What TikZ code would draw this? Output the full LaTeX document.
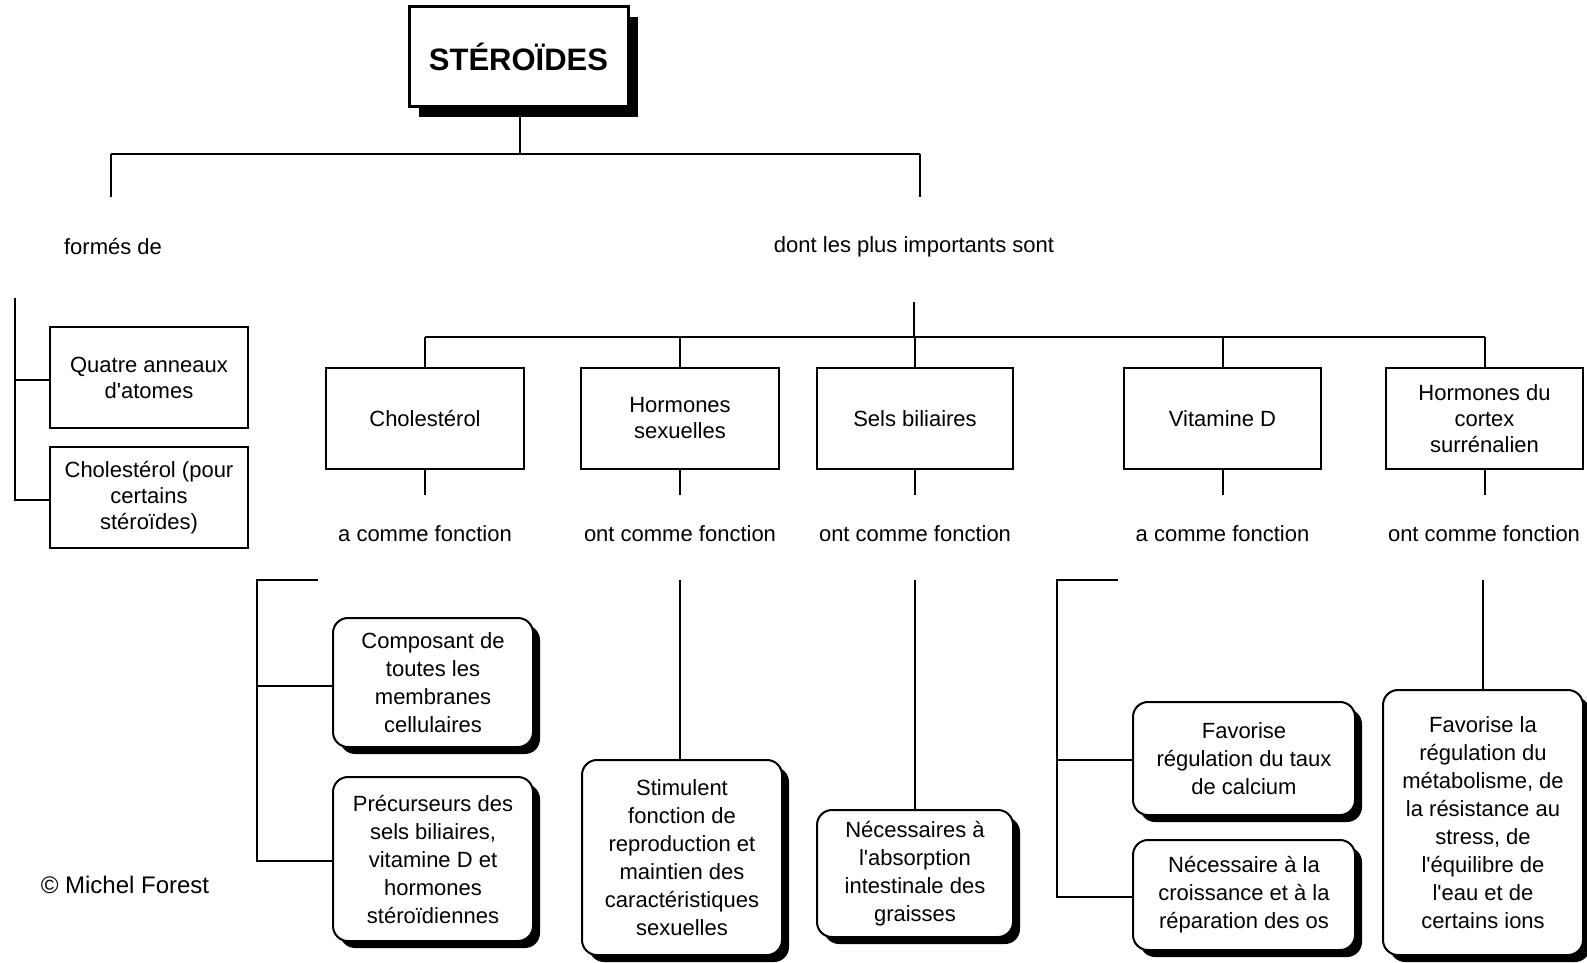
\documentclass[tikz,border=0pt]{standalone}
\usepackage{fontspec}
\setmainfont{Liberation Sans}
\usetikzlibrary{shadows}
\newcommand{\apos}{\textquotesingle}
\begin{document}
\begin{tikzpicture}[x=1pt,y=-1pt,
  ln/.style={line width=2pt},
  lbl/.style={font=\fontsize{22}{26}\selectfont, inner sep=0pt},
  sqbox/.style={draw, line width=2pt, fill=white, align=center, inner sep=0pt,
    font=\fontsize{22}{26}\selectfont},
  rbox/.style={draw, line width=2pt, fill=white, align=center, inner sep=0pt,
    rounded corners=15pt, font=\fontsize{22}{28}\selectfont,
    drop shadow={shadow xshift=7pt, shadow yshift=-7pt, opacity=1, fill=black}},
  titlebox/.style={draw, line width=3pt, fill=white, inner sep=0pt,
    minimum width=219pt, minimum height=100pt,
    font=\fontsize{31}{36}\selectfont\bfseries,
    drop shadow={shadow xshift=10pt, shadow yshift=-10pt, opacity=1, fill=black}}
]
\useasboundingbox (0,0) rectangle (1587,963);
\fill[white] (0,0) rectangle (1587,963);

% title
\node[titlebox] (t) at (518.5,57) {STÉROÏDES};
\coordinate (tj) at (520,154);
\coordinate (jl) at (111,154);
\coordinate (jr) at (920,154);
\coordinate (jl2) at (111,197);
\coordinate (jr2) at (920,197);
\draw[ln] (t.south -| tj) -- (tj);
\draw[ln] (jl) -- (jr);
\draw[ln] (jl) -- (jl2);
\draw[ln] (jr) -- (jr2);

\node[lbl] (f) at (113,247) {formés de};
\node[lbl] (d) at (914,247) {dont les plus importants sont};

% left branch
\coordinate (lt) at (15,298);
\coordinate (lb) at (15,500);
\node[sqbox, minimum width=198pt, minimum height=101pt] (q) at (149,377.5) {Quatre anneaux\\d\apos atomes};
\node[sqbox, minimum width=198pt, minimum height=101pt] (c) at (149,497.5) {Cholestérol (pour\\certains\\stéroïdes)};
\draw[ln] (lt) -- (lb) -- (c.west |- lb);
\draw[ln] (15,380) -- (q.west |- 0,380);

% bus
\coordinate (bt) at (914,302);
\coordinate (bb) at (914,337);
\coordinate (bl) at (425,337);
\coordinate (br) at (1485,337);
\draw[ln] (bt) -- (bb);
\draw[ln] (bl) -- (br);

\node[sqbox, minimum width=198pt, minimum height=101pt] (b1) at (425,418.5) {Cholestérol};
\node[sqbox, minimum width=198pt, minimum height=101pt] (b2) at (680,418.5) {Hormones\\sexuelles};
\node[sqbox, minimum width=196pt, minimum height=101pt] (b3) at (915,418.5) {Sels biliaires};
\node[sqbox, minimum width=197pt, minimum height=101pt] (b4) at (1222.5,418.5) {Vitamine D};
\node[sqbox, minimum width=197pt, minimum height=101pt] (b5) at (1484.5,418.5) {Hormones du\\cortex\\surrénalien};

\foreach \n in {b1,b2,b3,b4,b5}{
  \draw[ln] (\n.north) -- (\n.north |- bb);
  \draw[ln] (\n.south) -- ++(0,25);
}

\node[lbl] (a1) at (425,534) {a comme fonction};
\node[lbl] (a2) at (680,534) {ont comme fonction};
\node[lbl] (a3) at (915,534) {ont comme fonction};
\node[lbl] (a4) at (1222.5,534) {a comme fonction};
\node[lbl] (a5) at (1484,534) {ont comme fonction};

% Cholesterol functions
\node[rbox, minimum width=200pt, minimum height=129pt] (c1) at (433,682.5) {Composant de\\toutes les\\membranes\\cellulaires};
\node[rbox, minimum width=200pt, minimum height=164pt] (c2) at (433,859) {Précurseurs des\\sels biliaires,\\vitamine D et\\hormones\\stéroïdiennes};
\coordinate (ct) at (257,580);
\coordinate (cte) at (318,580);
\coordinate (cb) at (257,861);
\draw[ln] (cte) -- (ct) -- (cb) -- (c2.west |- cb);
\draw[ln] (257,686) -- (c1.west |- 0,686);

% Hormones sexuelles
\node[rbox, minimum width=200pt, minimum height=195pt] (h1) at (682,857.5) {Stimulent\\fonction de\\reproduction et\\maintien des\\caractéristiques\\sexuelles};
\draw[ln] (680,580) -- (h1.north -| 680,0);

% Sels biliaires
\node[rbox, minimum width=196pt, minimum height=127pt] (s1) at (915,873.5) {Nécessaires à\\l\apos absorption\\intestinale des\\graisses};
\draw[ln] (915,580) -- (s1.north);

% Vitamine D
\node[rbox, minimum width=222pt, minimum height=113pt] (v1) at (1244,758.5) {Favorise\\régulation du taux\\de calcium};
\node[rbox, minimum width=222pt, minimum height=110pt] (v2) at (1244,895) {Nécessaire à la\\croissance et à la\\réparation des os};
\coordinate (vt) at (1057,580);
\coordinate (vte) at (1118,580);
\coordinate (vb) at (1057,897);
\draw[ln] (vte) -- (vt) -- (vb) -- (v2.west |- vb);
\draw[ln] (1057,760) -- (v1.west |- 0,760);

% Cortex
\node[rbox, minimum width=200pt, minimum height=265pt] (k1) at (1483,822.5) {Favorise la\\régulation du\\métabolisme, de\\la résistance au\\stress, de\\l\apos équilibre de\\l\apos eau et de\\certains ions};
\draw[ln] (1483,580) -- (k1.north);

\node[lbl, font=\fontsize{24}{28}\selectfont] (cp) at (125,885) {© Michel Forest};
\end{tikzpicture}
\end{document}
